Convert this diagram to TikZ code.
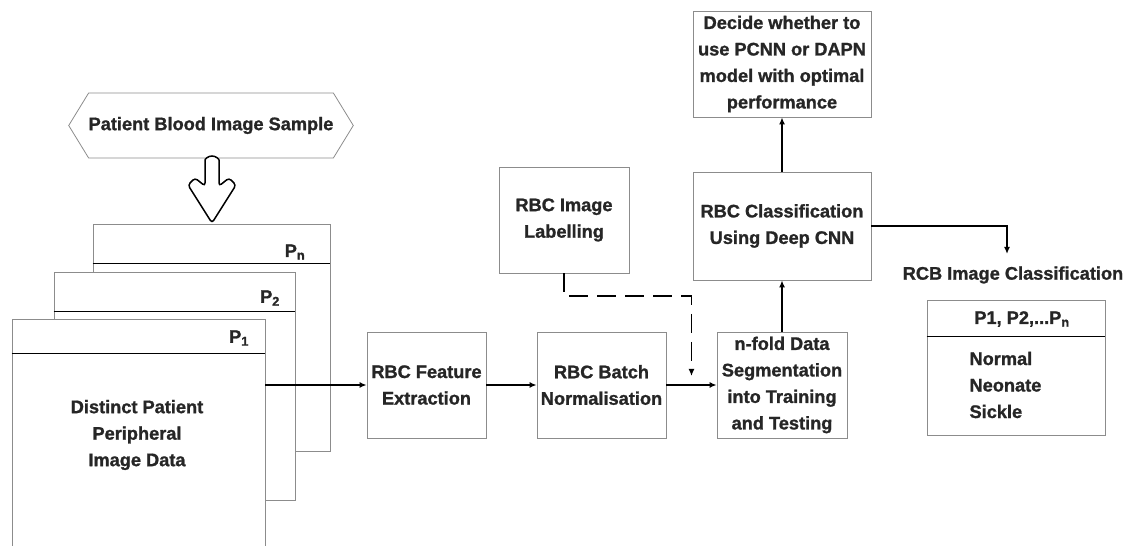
\documentclass[tikz,border=0pt]{standalone}
\usepackage{fontspec}
\setmainfont{Liberation Sans}[BoldFeatures={FakeBold=1.2}]
\usetikzlibrary{arrows.meta,shapes.symbols}
\definecolor{edgegray}{HTML}{8C8C8C}
\definecolor{textgray}{HTML}{262626}

\begin{document}
\begin{tikzpicture}[x=1pt,y=1pt,
    font=\fontsize{18.2}{26.5}\selectfont\bfseries, text=textgray,
    box/.style={draw=edgegray, line width=0.8pt, fill=white, align=center, inner sep=2pt},
    link/.style={line width=1.5pt, -{Latex[length=7pt,width=6pt]}},
    sep/.style={line width=1.5pt}]
    \useasboundingbox (0,0) rectangle (1130,546);
    \clip (0,0) rectangle (1130,546);

    % Input sample
    \node[draw=edgegray, line width=0.8pt, signal, signal to=west and east, signal pointer angle=117,
          minimum width=272, minimum height=65, inner sep=0pt] (sample) at (211,420.5) {Patient Blood Image Sample};

    % Hollow down arrow
    \draw[line width=1.5pt, fill=white, rounded corners=3pt]
        (205,360) -- (205,383) arc (180:0:7) -- (219,360) -- (229,368) -- (236,361)
        -- (212,323) -- (188,361) -- (195,368) -- cycle;

    % Stack of patient records
    \node[box, minimum width=237, minimum height=227] (pn) at (211.5,208.5) {};
    \draw[sep] ([yshift=-40pt]pn.north west) -- ([yshift=-40pt]pn.north east);
    \node (pnlabel) at (295,294) {P\textsubscript{n}};

    \node[box, minimum width=241, minimum height=228] (ptwo) at (174.5,160) {};
    \draw[sep] ([yshift=-40pt]ptwo.north west) -- ([yshift=-40pt]ptwo.north east);
    \node (ptwolabel) at (270,248) {P\textsubscript{2}};

    \node[box, minimum width=253, minimum height=260] (pone) at (138.5,97) {};
    \draw[sep] ([yshift=-35pt]pone.north west) -- ([yshift=-35pt]pone.north east);
    \node (ponelabel) at (239,208) {P\textsubscript{1}};
    \node[align=center] (data) at (137,111) {Distinct Patient\\Peripheral\\Image Data};

    % Processing steps
    \node[box, minimum width=119, minimum height=106] (feat) at (426.5,161) {RBC Feature\\Extraction};
    \node[box, minimum width=129, minimum height=106] (norm) at (601.5,161) {RBC Batch\\Normalisation};
    \node[box, minimum width=130, minimum height=106] (label) at (564,326) {RBC Image\\Labelling};
    \node[box, minimum width=130, minimum height=106] (seg) at (782,161) {n-fold Data\\Segmentation\\into Training\\and Testing};
    \node[box, minimum width=178, minimum height=108] (classify) at (782,320) {RBC Classification\\Using Deep CNN};
    \node[box, minimum width=178, minimum height=106] (decide) at (782,482) {Decide whether to\\use PCNN or DAPN\\model with optimal\\performance};

    % Output classes
    \node (restitle) at (1013,271) {RCB Image Classification};
    \node[box, minimum width=178, minimum height=135] (result) at (1016,178.5) {};
    \draw[line width=1pt] ([yshift=-37pt]result.north west) -- ([yshift=-37pt]result.north east);
    \node (reshead) at (1022,227) {P1, P2,...P\textsubscript{n}};
    \node[anchor=west, align=left] (reslist) at (966,161) {Normal\\Neonate\\Sickle};

    % Connectors
    \coordinate (merge) at (691.5,170);
    \coordinate (resin) at (1007,292);
    \draw[link] (feat.west -| pone.east) -- (feat.west);
    \draw[link] (feat) -- (norm);
    \draw[link] (norm) -- (seg);
    \draw[link, line width=1.8pt, dash pattern=on 19pt off 9pt] (label.south) -- ++(0,-23) -| (merge);
    \draw[link] (seg) -- (classify);
    \draw[link] (classify) -- (decide);
    \draw[link] (classify.east) -| (resin);
\end{tikzpicture}
\end{document}
